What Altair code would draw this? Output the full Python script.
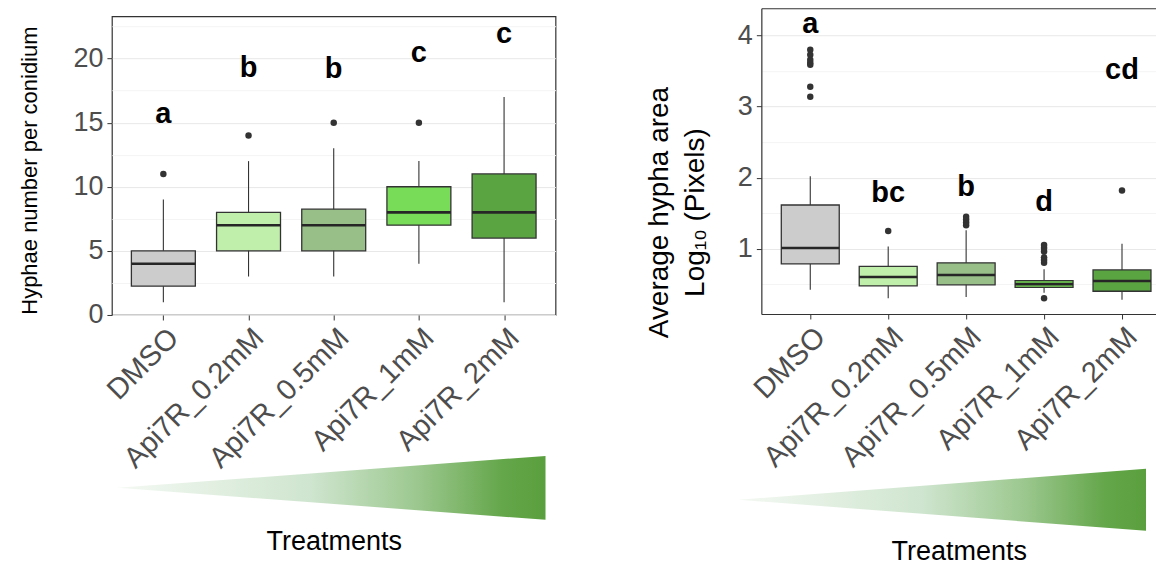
import altair as alt
import pandas as pd

treatments = ["DMSO", "Api7R_0.2mM", "Api7R_0.5mM", "Api7R_1mM", "Api7R_2mM"]
box_colors = ["#cccccc", "#c0efab", "#97bf87", "#78dc58", "#5ba442"]

# Left panel: hyphae number per conidium
hy_lower = [1, 3, 3, 4, 1]
hy_q1 = [2.25, 5, 5, 7, 6]
hy_median = [4, 7, 7, 8, 8]
hy_q3 = [5, 8, 8.25, 10, 11]
hy_upper = [9, 12, 13, 12, 17]
hy_out_group = ["DMSO", "Api7R_0.2mM", "Api7R_0.5mM", "Api7R_1mM"]
hy_out_value = [11, 14, 15, 15]
hy_letters = ["a", "b", "b", "c", "c"]
hy_letter_y = [15.7, 19.3, 19.2, 20.4, 21.9]

# Right panel: average hypha area (log10 pixels)
ar_lower = [0.42, 0.30, 0.32, 0.38, 0.28]
ar_q1 = [0.785, 0.475, 0.49, 0.456, 0.40]
ar_median = [1.01, 0.60, 0.63, 0.50, 0.545]
ar_q3 = [1.615, 0.75, 0.80, 0.55, 0.70]
ar_upper = [2.02, 1.03, 1.26, 0.71, 1.07]
ar_out_group = (["DMSO"] * 7 + ["Api7R_0.2mM"] + ["Api7R_0.5mM"] * 4
                + ["Api7R_1mM"] * 7 + ["Api7R_2mM"])
ar_out_value = [3.14, 3.28, 3.59, 3.62, 3.66, 3.73, 3.80,
                1.25,
                1.33, 1.37, 1.41, 1.45,
                0.30, 0.80, 0.84, 0.88, 0.96, 1.01, 1.05,
                1.82]
ar_letters = ["a", "bc", "b", "d", "cd"]
ar_letter_y = [4.16, 1.78, 1.87, 1.65, 3.52]

# Treatment-gradient wedge
wedge_pos = [0, 1]
wedge_half = [0, 1]

FONT = "Liberation Sans"
LABEL_GREY = "#4d4d4d"
DARK = "#333333"


def stats_df(lo, q1, med, q3, up, letters, ly):
    return pd.DataFrame({"treatment": treatments, "lower": lo, "q1": q1, "median": med,
                         "q3": q3, "upper": up, "letter": letters, "letter_y": ly})


def make_panel(df, out_df, y_domain, y_values, major_test, label_expr, y_title,
               title_x, title_y, title_size, xscale, box_px, width, height, framed):
    yscale = alt.Scale(domain=y_domain, nice=False, zero=False)
    yaxis = alt.Axis(values=y_values, labelExpr=label_expr, labelFont=FONT, labelFontSize=27,
                     labelColor=LABEL_GREY, labelPadding=4, tickColor=DARK, tickSize=5,
                     tickOpacity={"condition": {"test": major_test, "value": 1}, "value": 0},
                     gridColor={"condition": {"test": major_test, "value": "#e8e8e8"}, "value": "#f4f4f4"},
                     domain=not framed, domainColor=DARK, domainWidth=1.2,
                     titleFont=FONT, titleFontSize=title_size, titleFontWeight="normal",
                     titleColor="black", titleAngle=-90, titleAlign="center",
                     titleBaseline="middle", titleX=title_x, titleY=title_y, titleLineHeight=title_size * 1.3)
    xaxis = alt.Axis(labelAngle=-45, labelAlign="right", labelBaseline="top", labelFont=FONT,
                     labelFontSize=29, labelColor=LABEL_GREY, labelPadding=3, labelOverlap=False,
                     labelLimit=0, tickColor=DARK, tickSize=5, gridColor="#e8e8e8",
                     domain=not framed, domainColor=DARK, domainWidth=1.2, title=None)
    xenc = alt.X("treatment:N", sort=treatments, scale=xscale, axis=xaxis, title=None)

    def yenc(field):
        return alt.Y(field, type="quantitative", scale=yscale, axis=yaxis, title=y_title)

    base = alt.Chart(df)
    whisker = base.mark_rule(color=DARK, strokeWidth=1.1).encode(x=xenc, y=yenc("lower"), y2="upper")
    box = base.mark_bar(size=box_px, stroke=DARK, strokeWidth=1.3).encode(
        x=xenc, y=yenc("q1"), y2="q3",
        color=alt.Color("treatment:N", scale=alt.Scale(domain=treatments, range=box_colors), legend=None))
    med = base.mark_tick(size=box_px, thickness=2.6, color="#262626", opacity=1).encode(x=xenc, y=yenc("median"))
    outs = alt.Chart(out_df).mark_circle(size=42, color=DARK, opacity=1).encode(x=xenc, y=yenc("value"))
    if framed:
        letters = base.mark_text(font=FONT, fontWeight="bold", fontSize=29, color="black",
                                 baseline="middle").encode(x=xenc, y=yenc("letter_y"), text="letter:N")
        layer = alt.layer(whisker, box, med, outs, letters)
        view = alt.ViewBackground(stroke=DARK, strokeWidth=1.2)
    else:
        lx = alt.X("treatment:N", sort=treatments, scale=xscale, title=None,
                   axis=alt.Axis(orient="top", labels=False, ticks=False, grid=False, domain=True,
                                 domainColor=DARK, domainWidth=1.2, title=None))
        letters = base.mark_text(font=FONT, fontWeight="bold", fontSize=29, color="black",
                                 baseline="middle").encode(x=lx, y=yenc("letter_y"), text="letter:N")
        layer = alt.layer(alt.layer(whisker, box, med, outs), letters).resolve_axis(x="independent")
        view = alt.ViewBackground(stroke=None)
    return layer.properties(width=width, height=height, view=view)


def make_wedge(x_domain, y_domain, width, height, pad):
    wdf = pd.DataFrame({"pos": wedge_pos, "top": wedge_half, "bottom": [-h for h in wedge_half]})
    grad = alt.Gradient(gradient="linear", x1=0, x2=1, y1=0, y2=0, stops=[
        alt.GradientStop(color="#f4f9f3", offset=0),
        alt.GradientStop(color="#cfe5cf", offset=0.45),
        alt.GradientStop(color="#9cc88f", offset=0.7),
        alt.GradientStop(color="#64a64a", offset=0.9),
        alt.GradientStop(color="#5a9f3e", offset=1),
    ])
    return alt.Chart(wdf).mark_area(color=grad, clip=False).encode(
        x=alt.X("pos:Q", scale=alt.Scale(domain=x_domain, nice=False, zero=False),
                axis=alt.Axis(title="Treatments", labels=False, ticks=False, domain=False, grid=False,
                              titleFont=FONT, titleFontSize=27,
                              titleFontWeight="normal", titleColor="black", titlePadding=pad)),
        y=alt.Y("top:Q", scale=alt.Scale(domain=y_domain, nice=False, zero=False), axis=None),
        y2="bottom:Q",
    ).properties(width=width, height=height, view=alt.ViewBackground(stroke=None))


left_df = stats_df(hy_lower, hy_q1, hy_median, hy_q3, hy_upper, hy_letters, hy_letter_y)
left_out = pd.DataFrame({"treatment": hy_out_group, "value": hy_out_value})
right_df = stats_df(ar_lower, ar_q1, ar_median, ar_q3, ar_upper, ar_letters, ar_letter_y)
right_out = pd.DataFrame({"treatment": ar_out_group, "value": ar_out_value})

left_panel = make_panel(
    left_df, left_out, [0, 23.3], [i * 2.5 for i in range(10)],
    "datum.value % 5 === 0", "datum.value % 5 === 0 ? format(datum.value, 'd') : ''",
    "Hyphae number per conidium", -82, 154, 22,
    alt.Scale(type="point", domain=treatments, padding=0.604, align=0.5), 64, 444, 299, True,
)

right_panel = make_panel(
    right_df, right_out, [0.08, 4.386], [i * 0.5 for i in range(1, 9)],
    "datum.value % 1 === 0", "datum.value % 1 === 0 ? format(datum.value, 'd') : ''",
    ["Average hypha area", "Log\u2081\u2080 (Pixels)"], -102, 204, 28,
    alt.Scale(type="point", domain=treatments, padding=0.532, align=0.59), 58, 395, 306, False,
)

# invisible 1px spacer that pushes the left panel down a little
spacer = alt.Chart(pd.DataFrame({"s": [0]})).mark_rule(opacity=0, strokeWidth=0).encode(
    x=alt.value(0), y=alt.value(0), y2=alt.value(1)
).properties(width=444, height=1, view=alt.ViewBackground(stroke=None))

# left wedge chart starts 7px below the panel; the wedge itself sits in its lower 64px
left_wedge = make_wedge([-0.014, 1.0234], [-1, 5.19], 444, 198, 9)
right_wedge = make_wedge([0.0564, 1.0245], [-1, 1], 395, 62, 8)

left_col = alt.vconcat(spacer, left_panel, left_wedge, spacing=7, bounds="flush")
right_col = alt.vconcat(right_panel, right_wedge, spacing=155, bounds="flush")

chart = alt.hconcat(left_col, right_col, spacing=89).properties(
    padding={"left": 10, "top": 0, "right": 0, "bottom": 0}
).configure_view(stroke=None).configure(font=FONT, background="white")

chart.save("out.html", embed_options={"renderer": "svg", "actions": False})
